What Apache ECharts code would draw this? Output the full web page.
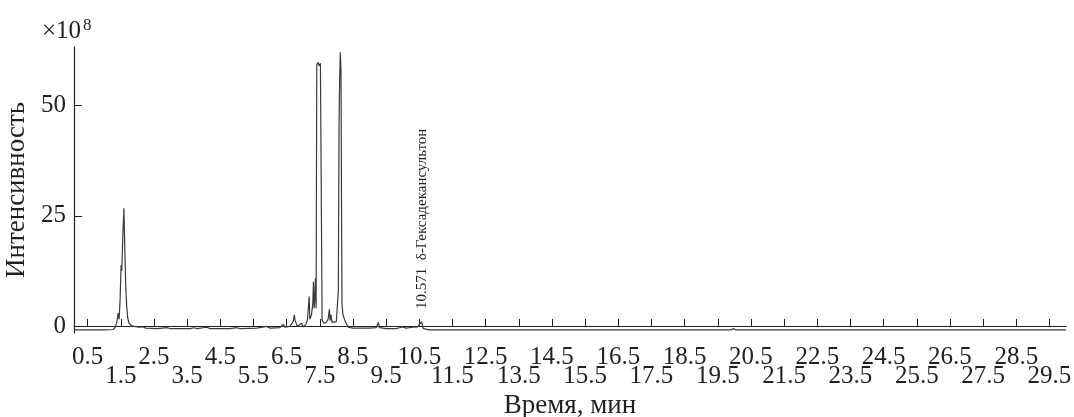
<!DOCTYPE html>
<html lang="ru">
<head>
    <meta charset="UTF-8">
    <title>Хроматограмма</title>
    <script src="https://cdn.jsdelivr.net/npm/echarts@6/dist/echarts.min.js"></script>
    <style>
        html, body { margin: 0; padding: 0; background: #fff; }
        #main { width: 1074px; height: 417px; }
    </style>
</head>
<body>
<div id="main"></div>
<script type="text/javascript">
    // время удерживания, мин
    const times = [
        0.09, 0.5, 1.0, 1.28, 1.33, 1.38, 1.42, 1.45, 1.48, 1.51, 1.53, 1.56, 1.595, 1.62, 1.65, 1.68, 1.71, 1.75, 1.82, 1.9,
        2.05, 2.17, 2.25, 2.6, 2.9, 3.0, 3.6, 3.7, 3.8, 4.09, 4.2, 4.8, 5.0, 5.1, 5.6, 5.9, 6.0, 6.3, 6.4, 6.45,
        6.6, 6.7, 6.73, 6.76, 6.82, 6.95, 7.0, 7.08, 7.13, 7.18, 7.2, 7.25, 7.29, 7.31, 7.33, 7.35, 7.37, 7.39, 7.41, 7.45,
        7.48, 7.52, 7.55, 7.57, 7.62, 7.7, 7.75, 7.79, 7.81, 7.84, 7.87, 7.93, 8.0, 8.03, 8.06, 8.08, 8.1, 8.12, 8.14, 8.16,
        8.17, 8.2, 8.25, 8.3, 8.36, 8.5, 9.0, 9.2, 9.27, 9.3, 9.5, 9.8, 9.9, 10.0, 10.1, 10.3, 10.45, 10.5, 10.571, 10.62,
        10.8, 13.2, 13.24, 13.28, 19.9, 19.97, 20.05, 30.0
    ]
    // интенсивность, x10^8
    const intensity = [
        -0.9, -0.9, -0.9, -0.8, -0.3, 0.8, 2.9, 1.5, 6.0, 13.8, 12.5, 20, 26.7, 18, 9, 4.4, 1.8, 0.6, 0.1, -0.1,
        -0.3, -0.2, -0.5, -0.6, -0.4, -0.6, -0.6, -0.4, -0.6, -0.3, -0.6, -0.6, -0.4, -0.6, -0.5, -0.1, -0.5, -0.4, 0.4, -0.3,
        -0.1, 1.0, 2.5, 1.2, -0.1, 0.6, -0.2, 0.3, 1.5, 6.7, 1.5, 2.5, 5, 10.0, 4, 6, 10.8, 4, 59.3, 59.8,
        59.0, 59.6, 59.2, 1.5, 0.6, 0.8, 1.5, 3.8, 1.2, 2.5, 0.8, 1.2, 1.0, 1.4, 8, 45, 56, 62.1, 58, 20,
        5, 2.5, 1.4, 0.5, -0.3, -0.5, -0.5, -0.4, 0.8, -0.4, -0.6, -0.6, -0.4, -0.2, -0.5, -0.3, -0.2, 0.2, 1.0, -0.6,
        -0.9, -0.9, -0.6, -0.9, -0.9, -0.6, -0.9, -0.9
    ]
    const xTicks = [0.5, 1.5, 2.5, 3.5, 4.5, 5.5, 6.5, 7.5, 8.5, 9.5, 10.5, 11.5, 12.5, 13.5, 14.5,
        15.5, 16.5, 17.5, 18.5, 19.5, 20.5, 21.5, 22.5, 23.5, 24.5, 25.5, 26.5, 27.5, 28.5, 29.5]
    const yTicks = [0, 25, 50]
    const peakLabel = { time: 10.571, value: 1.0, name: '10.571  δ-Гексадекансультон' }

    // подписи идут в два ряда: 0.5, 2.5, ... сверху и 1.5, 3.5, ... снизу
    const xTicksTop = xTicks.filter((v, i) => i % 2 === 0)
    const xTicksBottom = xTicks.filter((v, i) => i % 2 === 1)

    const font = 'Liberation Serif'
    const ink = '#231f20'
    const xMin = 0.09, xMax = 30.0

    function labelRow(values, margin) {
        return {
            customValues: values,
            showMaxLabel: true,
            showMinLabel: true,
            hideOverlap: false,
            fontFamily: font,
            fontSize: 25,
            color: ink,
            margin: margin,
            formatter: v => v.toFixed(1)
        }
    }

    let chart = echarts.init(document.getElementById('main'), null, { renderer: 'canvas' })
    let option = {
        animation: false,
        backgroundColor: '#fff',
        grid: { left: 74, right: 8, top: 47, bottom: 84, outerBoundsMode: 'none', containLabel: false },
        graphic: [{
            type: 'text',
            left: 42,
            top: 17,
            style: {
                text: '{a|×10}{s|8}',
                fill: ink,
                rich: {
                    a: { fontFamily: font, fontSize: 25, color: ink },
                    s: { fontFamily: font, fontSize: 17, color: ink, verticalAlign: 'top', padding: [0, 0, 12, 2] }
                }
            }
        }],
        xAxis: [{
            type: 'value',
            min: xMin,
            max: xMax,
            name: 'Время, мин',
            nameLocation: 'middle',
            nameGap: 59,
            nameTextStyle: { fontFamily: font, fontSize: 27, color: ink },
            axisLine: { lineStyle: { color: ink, width: 1.2 } },
            axisTick: { inside: true, length: 7, customValues: xTicks, lineStyle: { color: ink } },
            axisLabel: labelRow(xTicksTop, 12),
            splitLine: { show: false }
        }, {
            type: 'value',
            position: 'bottom',
            min: xMin,
            max: xMax,
            axisLine: { show: false },
            axisTick: { show: false },
            axisLabel: labelRow(xTicksBottom, 31),
            splitLine: { show: false }
        }],
        yAxis: {
            type: 'value',
            min: -1.6,
            max: 63.3,
            name: 'Интенсивность',
            nameLocation: 'middle',
            nameGap: 42,
            nameTextStyle: { fontFamily: font, fontSize: 27, color: ink },
            axisLine: { show: true, lineStyle: { color: ink, width: 1.2 } },
            axisTick: { show: true, inside: true, length: 8, customValues: yTicks, lineStyle: { color: ink } },
            axisLabel: { customValues: yTicks, fontFamily: font, fontSize: 25, color: ink, margin: 8 },
            splitLine: { show: false }
        },
        series: [{
            type: 'line',
            xAxisIndex: 0,
            data: times.map((t, i) => [t, intensity[i]]),
            showSymbol: false,
            symbol: 'none',
            lineStyle: { color: '#3a3a3a', width: 1.2 },
            markPoint: {
                symbol: 'circle',
                symbolSize: 1,
                itemStyle: { color: 'rgba(0,0,0,0)' },
                label: {
                    show: true,
                    formatter: peakLabel.name,
                    rotate: 90,
                    position: 'top',
                    distance: 12,
                    align: 'left',
                    verticalAlign: 'middle',
                    fontFamily: font,
                    fontSize: 15,
                    color: ink
                },
                data: [{ coord: [peakLabel.time, peakLabel.value] }]
            }
        }]
    }
    chart.setOption(option)
</script>
</body>
</html>
